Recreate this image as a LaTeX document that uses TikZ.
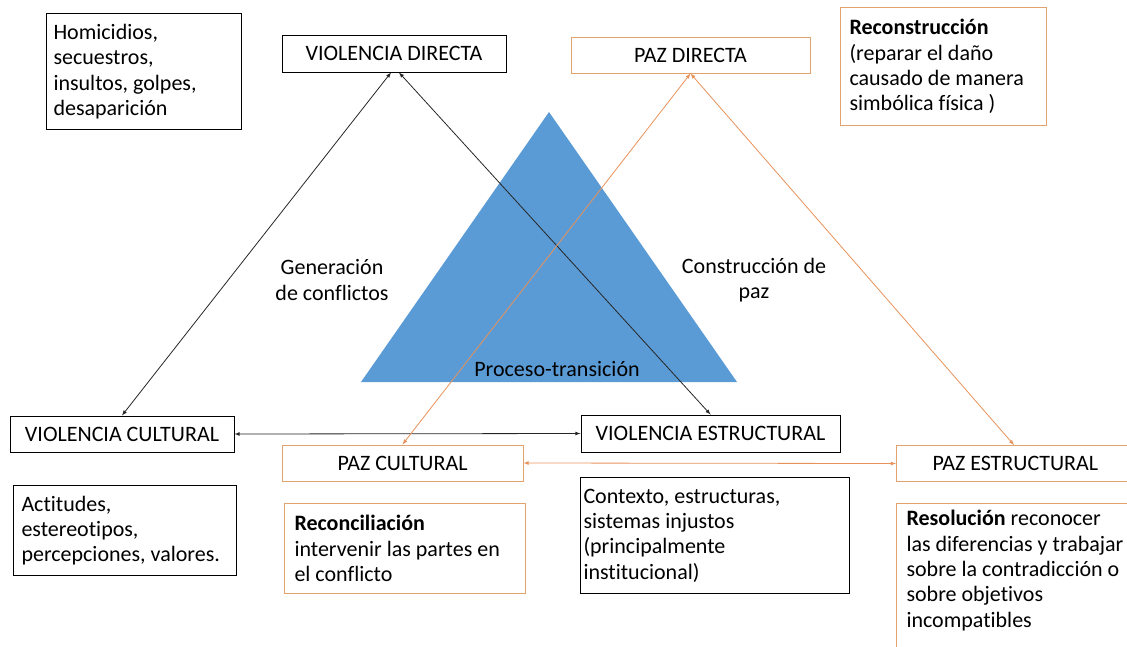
\documentclass[tikz,border=0pt]{standalone}
\usepackage{fontspec}
\setmainfont{Carlito}[Ligatures=NoCommon]
\usepackage{xcolor}
\usepackage{tikz}
\usetikzlibrary{arrows,calc}

\definecolor{triblue}{HTML}{5B9BD5}
\definecolor{pazbox}{HTML}{E2A36E}
\definecolor{pazarrow}{HTML}{E8925A}

\tikzset{
  every node/.style={font=\fontsize{22}{25.3}\selectfont},
  vbox/.style={draw=black, line width=1pt, fill=white, inner sep=0pt},
  pbox/.style={draw=pazbox, line width=1pt, fill=white, inner sep=0pt},
  note/.style={anchor=north west, align=flush left, inner ysep=0pt},
  varrow/.style={latex-latex, draw=black!85, line width=0.8pt},
  parrow/.style={latex-latex, draw=pazarrow, line width=0.8pt}
}

\begin{document}
\begin{tikzpicture}[x=1pt, y=-1pt]
	  \useasboundingbox (0,0) rectangle (1127,646);
	  % triangle in the middle
	  \fill[triblue] (549,112) -- (737,382) -- (361,382) -- cycle;
	  \node (proc) at (557,369) {Proceso-transici\'on};
	  \node[align=center] (gen) at (332,280) {Generaci\'on\\de conflictos};
	  \node[align=center] (cons) at (754,280) {Construcci\'on de\\paz};
	  % violencia
	  \node[vbox, minimum width=224, minimum height=37] (vd) at (394,53.5) {VIOLENCIA DIRECTA};
	  \node[vbox, minimum width=224, minimum height=36] (vc) at (122,434) {VIOLENCIA CULTURAL};
	  \node[vbox, minimum width=259, minimum height=37] (ve) at (710.5,433.5) {VIOLENCIA ESTRUCTURAL};
	  \node[vbox, note, inner xsep=7, text width=181, minimum height=116] (hom) at (46,13) {Homicidios,\\secuestros,\\insultos, golpes,\\desaparici\'on};
	  \node[vbox, note, inner xsep=8, text width=207, minimum height=90] (act) at (13,485) {Actitudes,\\estereotipos,\\percepciones, valores.};
	  \node[vbox, note, inner xsep=3, text width=263, minimum height=116] (ctx) at (580,477) {Contexto, estructuras,\\sistemas injustos\\(principalmente\\institucional)};
	  % paz
	  \node[pbox, minimum width=239, minimum height=36] (pd) at (690.5,55) {PAZ DIRECTA};
	  \node[pbox, minimum width=241, minimum height=36] (pc) at (402.5,463) {PAZ CULTURAL};
	  \node[pbox, note, inner xsep=36, text width=230, minimum height=36] (pe) at (896,445) {PAZ ESTRUCTURAL};
	  \node[pbox, note, inner xsep=9, text width=188, minimum height=118] (rec) at (840,7) {\textbf{Reconstrucci\'on}\\(reparar el da\~no\\causado de manera\\simb\'olica f\'isica )};
	  \node[pbox, note, inner xsep=10, text width=221, minimum height=90] (recon) at (284,503) {\textbf{Reconciliaci\'on}\\intervenir las partes en\\el conflicto};
	  \node[pbox, note, inner xsep=10, inner ysep=7, text width=240] (res) at (896,503) {\textbf{Resoluci\'on} reconocer\\las diferencias y trabajar\\sobre la contradicci\'on o\\sobre objetivos\\incompatibles\\ \mbox{}};
	  % arrows
	  \draw[varrow] ([xshift=-3]vd.south) -- (vc.north);
	  \draw[varrow] ([xshift=5]vd.south) -- (ve.north);
	  \draw[varrow] (vc.east) -- (ve.west);
	  \draw[parrow] (pd.south) -- (pc.north);
	  \draw[parrow] (pd.south) -- ($(pe.north west)+(118,0)$);
	  \draw[parrow] (pc.east) -- (pe.west);
	\end{tikzpicture}
\end{document}
